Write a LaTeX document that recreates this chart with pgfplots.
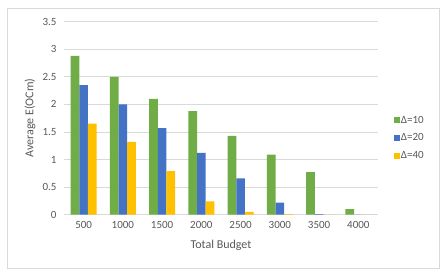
\documentclass[border=0pt]{standalone}
\usepackage{fontspec}
\setmainfont{Carlito}
\usepackage{pgfplots}
\pgfplotsset{compat=1.18}
\pgfplotsset{ybar legend/.style={/pgfplots/legend image code/.code={\fill[##1,draw=none] (0pt,-3pt) rectangle (6pt,3pt);}}}
\definecolor{xlgreen}{HTML}{70AD47}
\definecolor{xlblue}{HTML}{4472C4}
\definecolor{xlyellow}{HTML}{FFC000}
\definecolor{xltext}{HTML}{595959}
\definecolor{xlgrid}{HTML}{D9D9D9}
\begin{document}
\begin{tikzpicture}[x=1pt,y=1pt]
\fill[white] (0,0) rectangle (447,273);
\draw[color=xlgrid, line width=0.8pt] (7,5) rectangle (439,265);
\begin{axis}[
  at={(64pt,58.3pt)}, anchor=south west,
  scale only axis, width=314pt, height=193pt,
  ybar=0pt, bar width=8.6pt,
  ymin=0, ymax=3.5, ytick={0,0.5,...,3.5},
  xmin=-0.5, xmax=7.5, xtick={0,...,7},
  xticklabels={500,1000,1500,2000,2500,3000,3500,4000},
  axis line style={draw=none},
  major tick length=0pt,
  ymajorgrids, grid style={color=xlgrid, line width=0.8pt},
  /pgf/number format/assume math mode=true,
  ticklabel style={font=\fontsize{11}{13}\selectfont, color=xltext},
  yticklabel style={xshift=-4pt},
  xticklabel style={yshift=-3pt},
  xlabel={Total Budget}, ylabel={Average E(OCm)},
  label style={font=\fontsize{12}{14}\selectfont, color=xltext},
  xlabel style={at={(axis description cs:0.5,-0.16)}, anchor=center},
  ylabel style={at={(axis description cs:-0.108,0.5)}, anchor=center},
  legend style={at={(axis description cs:1.05,0.397)}, anchor=west, draw=none, fill=none,
    font=\fontsize{11}{13}\selectfont, text=xltext, row sep=7pt, inner sep=0pt,
    nodes={inner sep=1pt}},
  legend cell align=left,
]
\addplot[fill=xlgreen, draw=none] coordinates {(0,2.88) (1,2.50) (2,2.10) (3,1.88) (4,1.43) (5,1.09) (6,0.77) (7,0.10)};
\addplot[fill=xlblue, draw=none] coordinates {(0,2.35) (1,2.00) (2,1.57) (3,1.12) (4,0.66) (5,0.22) (6,0.01) (7,0)};
\addplot[fill=xlyellow, draw=none] coordinates {(0,1.65) (1,1.32) (2,0.79) (3,0.24) (4,0.05) (5,0.01) (6,0) (7,0)};
\legend{Δ=10,Δ=20,Δ=40}
\end{axis}
\end{tikzpicture}
\end{document}
